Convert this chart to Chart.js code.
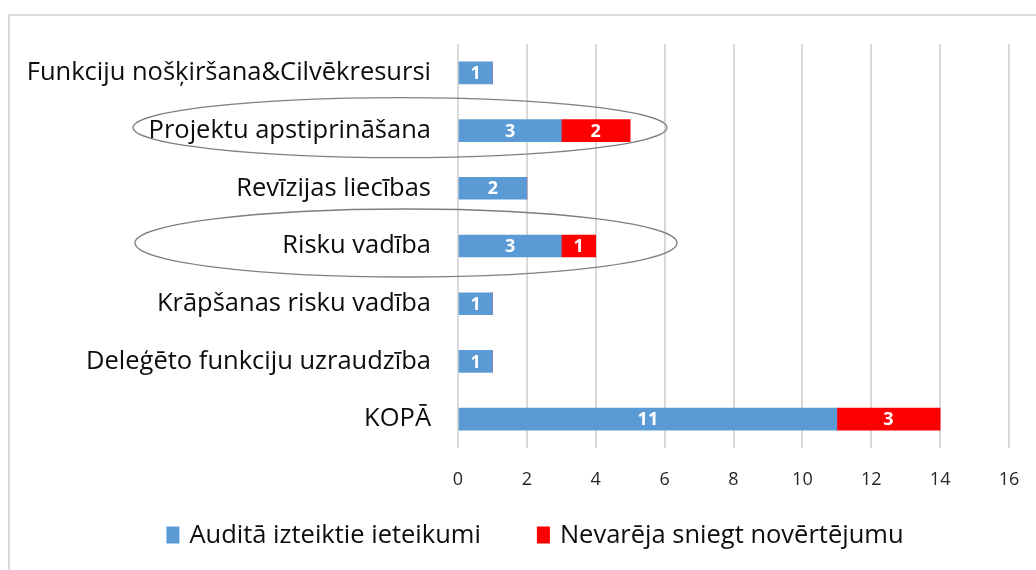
<!DOCTYPE html>
<html>
<head>
<meta charset="utf-8">
<script src="https://cdn.jsdelivr.net/npm/chart.js@4.4.1/dist/chart.umd.min.js"></script>
<style>
  html, body { margin: 0; padding: 0; background: #fff; }
  #wrap { width: 1036px; height: 570px; position: relative; }
</style>
</head>
<body>
<div id="wrap"><canvas id="chart" width="1036" height="570"></canvas></div>
<script>
// data
const categories = [
    'Funkciju nošķiršana&Cilvēkresursi',
    'Projektu apstiprināšana',
    'Revīzijas liecības',
    'Risku vadība',
    'Krāpšanas risku vadība',
    'Deleģēto funkciju uzraudzība',
    'KOPĀ'
]
const seriesNames = ['Auditā izteiktie ieteikumi', 'Nevarēja sniegt novērtējumu']
const audited = [1, 3, 2, 3, 1, 1, 11]
const notAssessed = [0, 2, 0, 1, 0, 0, 3]
const xTicks = [0, 2, 4, 6, 8, 10, 12, 14, 16]
// rows that got a hand drawn ellipse round them
const circled = ['Projektu apstiprināšana', 'Risku vadība']

const FONT = "'Open Sans', 'Noto Sans', sans-serif"

// frame round the chart, like the office chart border
const framePlugin = {
    id: 'frame',
    beforeDraw(chart) {
        let ctx = chart.ctx
        ctx.save()
        ctx.fillStyle = '#fff'
        ctx.fillRect(0, 0, chart.width, chart.height)
        ctx.strokeStyle = '#d9d9d9'
        ctx.lineWidth = 2
        ctx.strokeRect(9, 15, chart.width + 20, chart.height + 20)
        ctx.restore()
    }
}

// white numbers inside each bar piece
const valueLabels = {
    id: 'valueLabels',
    afterDatasetsDraw(chart) {
        let ctx = chart.ctx
        ctx.save()
        ctx.font = "bold 18px " + FONT
        ctx.fillStyle = '#fff'
        ctx.textAlign = 'center'
        ctx.textBaseline = 'middle'
        chart.data.datasets.forEach((ds, di) => {
            let meta = chart.getDatasetMeta(di)
            meta.data.forEach((bar, i) => {
                let v = ds.data[i]
                if (!v) return
                let p = bar.getProps(['x', 'y', 'base'], true)
                ctx.fillText(String(v), (p.x + p.base) / 2, p.y + 1)
            })
        })
        ctx.restore()
    }
}

// the two ellipses
const ellipses = {
    id: 'ellipses',
    afterDraw(chart) {
        let ctx = chart.ctx
        let y = chart.scales.y
        let shapes = [
            { cat: circled[0], cx: 400, dy: -3, rx: 267, ry: 30 },
            { cat: circled[1], cx: 406, dy: -3, rx: 271, ry: 34 }
        ]
        ctx.save()
        ctx.strokeStyle = '#7f7f7f'
        ctx.lineWidth = 1.3
        for (let s of shapes) {
            let cy = y.getPixelForValue(categories.indexOf(s.cat)) + s.dy
            ctx.beginPath()
            ctx.ellipse(s.cx, cy, s.rx, s.ry, 0, 0, Math.PI * 2)
            ctx.stroke()
        }
        ctx.restore()
    }
}

// legend under the axis, centred a bit right like the original
const bottomLegend = {
    id: 'bottomLegend',
    afterDraw(chart) {
        let ctx = chart.ctx
        let centerX = 535
        let centerY = 535
        let boxW = 13, boxH = 17, gap = 10, itemGap = 56
        ctx.save()
        ctx.font = "25.5px " + FONT
        ctx.textBaseline = 'middle'
        let items = chart.data.datasets.map(ds => ({
            text: ds.label,
            color: ds.backgroundColor,
            w: boxW + gap + ctx.measureText(ds.label).width
        }))
        let total = items.reduce((s, it) => s + it.w, 0) + itemGap * (items.length - 1)
        let x = centerX - total / 2
        for (let it of items) {
            ctx.fillStyle = it.color
            ctx.fillRect(x, centerY - boxH / 2, boxW, boxH)
            ctx.fillStyle = '#0d0d0d'
            ctx.fillText(it.text, x + boxW + gap, centerY + 1)
            x += it.w + itemGap
        }
        ctx.restore()
    }
}

new Chart(document.getElementById('chart'), {
    type: 'bar',
    data: {
        labels: categories,
        datasets: [
            { label: seriesNames[0], data: audited, backgroundColor: '#5b9bd5', barThickness: 22 },
            { label: seriesNames[1], data: notAssessed, backgroundColor: '#ff0000', barThickness: 22 }
        ]
    },
    options: {
        indexAxis: 'y',
        responsive: false,
        animation: false,
        devicePixelRatio: 1,
        layout: { padding: { top: 44, right: 27, left: 0, bottom: 0 } },
        scales: {
            x: {
                stacked: true,
                min: 0,
                max: 16,
                afterBuildTicks(scale) {
                    scale.ticks = xTicks.map(v => ({ value: v }))
                },
                grid: { color: '#d9d9d9', lineWidth: 2, drawTicks: false },
                border: { display: false },
                ticks: { font: { family: FONT, size: 18 }, color: '#262626', padding: 21 },
                afterFit(scale) {
                    scale.height = 122
                    scale.paddingLeft = 0
                    scale.paddingRight = 0
                }
            },
            y: {
                stacked: true,
                grid: { display: false },
                border: { display: false },
                ticks: { font: { family: FONT, size: 25.5 }, color: '#0d0d0d', padding: 19 },
                afterFit(scale) { scale.width = 458 }
            }
        },
        plugins: {
            legend: { display: false },
            tooltip: { enabled: false }
        }
    },
    plugins: [framePlugin, valueLabels, ellipses, bottomLegend]
})
</script>
</body>
</html>
